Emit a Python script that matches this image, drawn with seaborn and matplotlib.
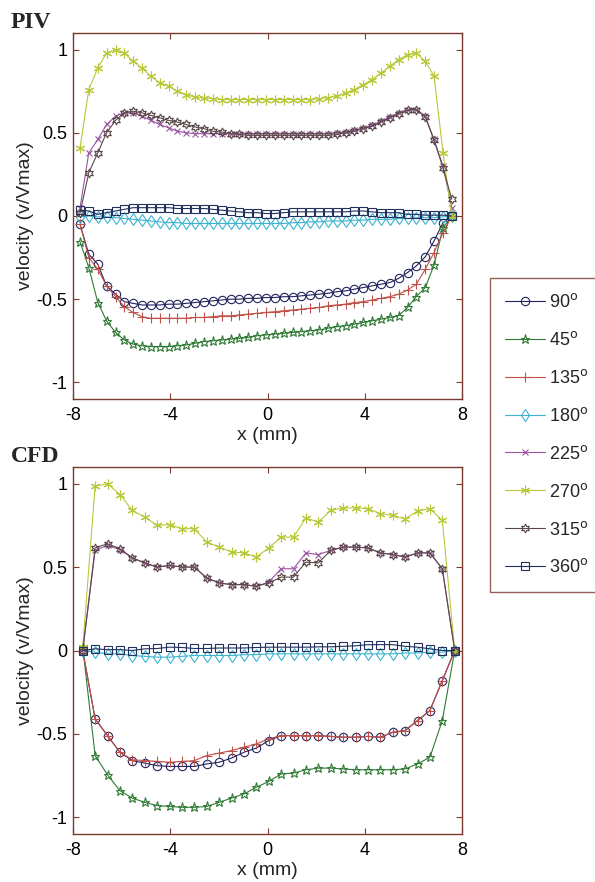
import numpy as np
import pandas as pd
import matplotlib
matplotlib.use("Agg")
import matplotlib.pyplot as plt
import seaborn as sns
from matplotlib.lines import Line2D

# ---------------- data ----------------
labels = ["90", "45", "135", "180", "225", "270", "315", "360"]

x_piv = [-7.71, -7.35, -6.98, -6.62, -6.25, -5.89, -5.53, -5.16, -4.80, -4.43,
         -4.07, -3.71, -3.34, -2.98, -2.61, -2.25, -1.89, -1.52, -1.16, -0.79,
         -0.43, -0.07, 0.30, 0.66, 1.03, 1.39, 1.75, 2.12, 2.48, 2.85,
         3.21, 3.57, 3.94, 4.30, 4.67, 5.03, 5.39, 5.76, 6.12, 6.49,
         6.85, 7.22, 7.58]

piv_90 = [-0.05, -0.23, -0.29, -0.42, -0.47, -0.515, -0.525, -0.535, -0.535, -0.535,
          -0.53, -0.53, -0.525, -0.52, -0.515, -0.51, -0.505, -0.50, -0.50, -0.495,
          -0.495, -0.49, -0.49, -0.485, -0.485, -0.48, -0.475, -0.47, -0.465, -0.455,
          -0.45, -0.44, -0.43, -0.42, -0.41, -0.40, -0.375, -0.34, -0.30, -0.245,
          -0.15, -0.04, 0.0]
piv_45 = [-0.155, -0.31, -0.52, -0.63, -0.70, -0.745, -0.77, -0.78, -0.785, -0.785,
          -0.785, -0.78, -0.775, -0.765, -0.755, -0.75, -0.745, -0.74, -0.735, -0.73,
          -0.72, -0.715, -0.71, -0.705, -0.70, -0.695, -0.69, -0.685, -0.675, -0.665,
          -0.66, -0.65, -0.64, -0.63, -0.62, -0.61, -0.60, -0.55, -0.485, -0.43,
          -0.295, -0.07, 0.0]
piv_135 = [-0.05, -0.25, -0.32, -0.42, -0.485, -0.545, -0.58, -0.605, -0.615, -0.615,
           -0.615, -0.615, -0.615, -0.61, -0.61, -0.605, -0.60, -0.60, -0.595, -0.59,
           -0.585, -0.58, -0.575, -0.57, -0.565, -0.56, -0.555, -0.55, -0.54, -0.535,
           -0.53, -0.52, -0.515, -0.505, -0.495, -0.485, -0.47, -0.445, -0.41, -0.32,
           -0.22, -0.10, 0.0]
piv_180 = [-0.005, 0.0, -0.005, -0.005, -0.01, -0.015, -0.02, -0.025, -0.03, -0.035,
           -0.04, -0.04, -0.045, -0.045, -0.045, -0.045, -0.045, -0.045, -0.045, -0.045,
           -0.045, -0.045, -0.045, -0.045, -0.04, -0.04, -0.035, -0.035, -0.03, -0.03,
           -0.03, -0.025, -0.025, -0.02, -0.02, -0.02, -0.015, -0.015, -0.01, -0.01,
           -0.01, -0.005, 0.0]
piv_225 = [0.05, 0.38, 0.46, 0.55, 0.60, 0.62, 0.62, 0.60, 0.575, 0.55,
           0.53, 0.51, 0.50, 0.495, 0.495, 0.495, 0.495, 0.495, 0.495, 0.495,
           0.495, 0.495, 0.495, 0.495, 0.495, 0.495, 0.495, 0.495, 0.495, 0.50,
           0.505, 0.515, 0.53, 0.545, 0.57, 0.595, 0.62, 0.64, 0.64, 0.60,
           0.46, 0.30, 0.05]
piv_270 = [0.41, 0.76, 0.89, 0.98, 1.00, 0.98, 0.93, 0.89, 0.84, 0.80,
           0.78, 0.75, 0.73, 0.715, 0.71, 0.705, 0.70, 0.70, 0.70, 0.70,
           0.70, 0.70, 0.70, 0.70, 0.70, 0.70, 0.70, 0.705, 0.71, 0.72,
           0.74, 0.76, 0.79, 0.82, 0.86, 0.90, 0.94, 0.97, 0.98, 0.93,
           0.84, 0.38, 0.0]
piv_315 = [0.02, 0.26, 0.38, 0.50, 0.575, 0.62, 0.63, 0.62, 0.605, 0.59,
           0.575, 0.565, 0.55, 0.535, 0.525, 0.51, 0.505, 0.495, 0.49, 0.485,
           0.485, 0.485, 0.485, 0.485, 0.485, 0.485, 0.485, 0.485, 0.485, 0.49,
           0.50, 0.51, 0.525, 0.54, 0.565, 0.59, 0.615, 0.635, 0.64, 0.595,
           0.455, 0.29, 0.10]
piv_360 = [0.035, 0.03, 0.01, 0.02, 0.03, 0.04, 0.05, 0.05, 0.05, 0.05,
           0.05, 0.045, 0.045, 0.045, 0.045, 0.04, 0.035, 0.03, 0.025, 0.02,
           0.02, 0.015, 0.015, 0.02, 0.025, 0.025, 0.025, 0.025, 0.025, 0.025,
           0.025, 0.03, 0.03, 0.025, 0.02, 0.02, 0.02, 0.01, 0.01, 0.005,
           0.005, 0.005, 0.0]

x_cfd = [-7.60, -7.09, -6.58, -6.07, -5.56, -5.05, -4.54, -4.03, -3.52, -3.01,
         -2.50, -1.99, -1.48, -0.97, -0.46, 0.05, 0.56, 1.07, 1.58, 2.09,
         2.60, 3.11, 3.62, 4.13, 4.64, 5.15, 5.66, 6.17, 6.68, 7.19, 7.70]

cfd_90 = [0.0, -0.41, -0.51, -0.61, -0.66, -0.675, -0.69, -0.695, -0.695, -0.695,
          -0.68, -0.67, -0.645, -0.61, -0.585, -0.54, -0.51, -0.51, -0.51, -0.51,
          -0.515, -0.52, -0.52, -0.515, -0.52, -0.49, -0.48, -0.42, -0.36, -0.18, 0.0]
cfd_45 = [0.02, -0.63, -0.745, -0.84, -0.885, -0.91, -0.93, -0.935, -0.94, -0.94,
          -0.935, -0.91, -0.885, -0.86, -0.82, -0.785, -0.74, -0.735, -0.715, -0.705,
          -0.705, -0.71, -0.715, -0.715, -0.715, -0.715, -0.71, -0.68, -0.64, -0.42, 0.0]
cfd_135 = [0.0, -0.41, -0.51, -0.61, -0.655, -0.66, -0.665, -0.67, -0.665, -0.66,
           -0.63, -0.615, -0.60, -0.58, -0.56, -0.53, -0.51, -0.51, -0.51, -0.51,
           -0.515, -0.52, -0.52, -0.515, -0.52, -0.49, -0.48, -0.42, -0.36, -0.18, 0.0]
cfd_180 = [0.0, -0.01, -0.02, -0.02, -0.03, -0.035, -0.04, -0.04, -0.035, -0.03,
           -0.03, -0.03, -0.03, -0.025, -0.025, -0.02, -0.02, -0.02, -0.02, -0.02,
           -0.02, -0.02, -0.02, -0.02, -0.02, -0.02, -0.015, -0.015, -0.01, -0.01, 0.0]
cfd_225 = [0.0, 0.60, 0.63, 0.605, 0.555, 0.525, 0.50, 0.51, 0.50, 0.50,
           0.435, 0.405, 0.395, 0.395, 0.385, 0.41, 0.49, 0.49, 0.585, 0.575,
           0.60, 0.62, 0.62, 0.615, 0.585, 0.575, 0.56, 0.585, 0.585, 0.49, 0.0]
cfd_270 = [0.02, 0.985, 1.00, 0.935, 0.84, 0.80, 0.75, 0.755, 0.73, 0.73,
           0.65, 0.62, 0.59, 0.585, 0.56, 0.615, 0.68, 0.68, 0.795, 0.77,
           0.84, 0.855, 0.855, 0.85, 0.82, 0.81, 0.79, 0.835, 0.85, 0.78, 0.0]
cfd_315 = [0.0, 0.615, 0.64, 0.61, 0.555, 0.525, 0.50, 0.51, 0.50, 0.50,
           0.435, 0.405, 0.395, 0.395, 0.385, 0.405, 0.44, 0.44, 0.53, 0.525,
           0.60, 0.62, 0.62, 0.615, 0.585, 0.575, 0.56, 0.585, 0.585, 0.49, 0.0]
cfd_360 = [0.0, 0.01, 0.005, 0.005, 0.0, 0.01, 0.012, 0.02, 0.018, 0.012,
           0.012, 0.015, 0.015, 0.015, 0.018, 0.02, 0.02, 0.02, 0.02, 0.022,
           0.022, 0.025, 0.028, 0.035, 0.035, 0.035, 0.025, 0.02, 0.01, 0.0, 0.0]

x_ticks = [-8, -4, 0, 4, 8]
y_ticks = [-1, -0.5, 0, 0.5, 1]
y_ticklabels = ["-1", "-0.5", "0", "0.5", "1"]

# ---------------- style ----------------
sns.set_theme(style="white")
plt.rcParams["font.family"] = ["Liberation Sans", "DejaVu Sans"]
plt.rcParams["axes.unicode_minus"] = False

SPINE = "#7a3a2e"
styles = {
    "90":  dict(color="#23235e", marker="o", mfc="none", ms=6.0),
    "45":  dict(color="#2f7a35", marker="*", mfc="none", ms=6.5),
    "135": dict(color="#c0504a", marker="+", mfc="none", ms=7.0),
    "180": dict(color="#3db3cf", marker="d", mfc="none", ms=6.0),
    "225": dict(color="#9a55a2", marker="x", mfc="none", ms=5.0),
    "270": dict(color="#b8c83a", marker=(6, 2, 0), mfc="none", ms=7.0),
    "315": dict(color="#5a4848", marker=(6, 1, 0), mfc="none", ms=6.5),
    "360": dict(color="#22305e", marker="s", mfc="none", ms=6.0),
}

piv = {"90": piv_90, "45": piv_45, "135": piv_135, "180": piv_180,
       "225": piv_225, "270": piv_270, "315": piv_315, "360": piv_360}
cfd = {"90": cfd_90, "45": cfd_45, "135": cfd_135, "180": cfd_180,
       "225": cfd_225, "270": cfd_270, "315": cfd_315, "360": cfd_360}

fig = plt.figure(figsize=(5.95, 8.82), dpi=100)
ax1 = fig.add_axes([73 / 595, 1 - 399 / 882, (462 - 73) / 595, (399 - 33) / 882])
ax2 = fig.add_axes([73 / 595, 1 - 834 / 882, (462 - 73) / 595, (834 - 467) / 882])


def draw(ax, xs, series):
    for lab in labels:
        st = styles[lab]
        df = pd.DataFrame({"x": xs, "v": series[lab]})
        sns.lineplot(data=df, x="x", y="v", ax=ax, color=st["color"],
                     marker=st["marker"], markersize=st["ms"],
                     markerfacecolor=st["mfc"], markeredgecolor=st["color"],
                     markeredgewidth=0.8, linewidth=0.8, legend=False,
                     sort=False, estimator=None)
    ax.set_xlim(-8, 8)
    ax.set_ylim(-1.1, 1.1)
    ax.set_xticks(x_ticks)
    ax.set_xticklabels([str(t) for t in x_ticks])
    ax.set_yticks(y_ticks)
    ax.set_yticklabels(y_ticklabels)
    ax.tick_params(direction="in", length=4, width=0.8, colors=SPINE,
                   labelcolor="black", labelsize=13, top=True, right=True,
                   bottom=True, left=True, pad=4)
    ax.tick_params(axis="x", pad=6)
    for sp in ax.spines.values():
        sp.set_color(SPINE)
        sp.set_linewidth(1.0)
    ax.set_xlabel("x (mm)", fontsize=14, labelpad=2)
    ax.set_ylabel("velocity (v/Vmax)", fontsize=14, labelpad=2)
    ax.set_facecolor("white")


draw(ax1, x_piv, piv)
draw(ax2, x_cfd, cfd)

fig.text(11 / 595, 1 - 28 / 882, "PIV", family=["Liberation Serif", "DejaVu Serif"],
         fontweight="bold", fontsize=17, ha="left", va="baseline")
fig.text(11 / 595, 1 - 462 / 882, "CFD", family=["Liberation Serif", "DejaVu Serif"],
         fontweight="bold", fontsize=17, ha="left", va="baseline")

handles = []
for lab in labels:
    st = styles[lab]
    handles.append(Line2D([0], [0], color=st["color"], marker=st["marker"],
                          markersize=st["ms"], markerfacecolor=st["mfc"],
                          markeredgecolor=st["color"], markeredgewidth=0.8,
                          linewidth=0.8))
leg = fig.legend(handles, [r"%s$^{\mathrm{o}}$" % l for l in labels],
                 loc="upper left", bbox_to_anchor=(490 / 595, 1 - 278 / 882),
                 fontsize=13, frameon=True, fancybox=False, labelspacing=1.1,
                 handlelength=2.2, handletextpad=0.2, borderpad=0.85,
                 borderaxespad=0.0)
leg.get_frame().set_edgecolor(SPINE)
leg.get_frame().set_linewidth(1.0)

fig.savefig("out.png", dpi=100, facecolor="white")
